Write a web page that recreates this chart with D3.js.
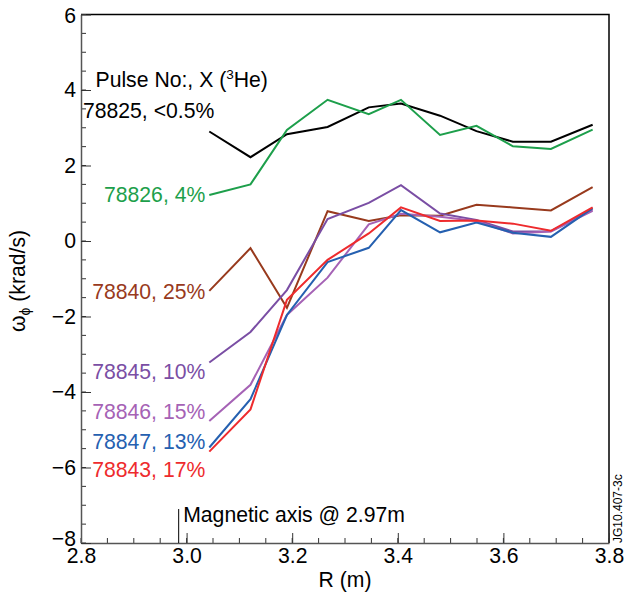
<!DOCTYPE html>
<html><head><meta charset="utf-8">
<script src="https://cdn.jsdelivr.net/npm/d3@7"></script>
<style>
body{margin:0;background:#fff;}
text{font-family:"Liberation Sans",Arial,Helvetica,sans-serif;}
</style></head>
<body><svg id="c" width="624" height="596"></svg>
<script>
const R = [3.043, 3.121, 3.19, 3.267, 3.345, 3.406, 3.48, 3.549, 3.618, 3.69, 3.769];
const pulses = ["78825, <0.5%", "78826, 4%", "78840, 25%", "78845, 10%", "78846, 15%", "78847, 13%", "78843, 17%"];
const v78825 = [2.90, 2.22, 2.83, 3.02, 3.54, 3.64, 3.32, 2.91, 2.63, 2.63, 3.08];
const v78826 = [1.22, 1.50, 2.94, 3.74, 3.36, 3.74, 2.81, 3.05, 2.51, 2.44, 2.95];
const v78840 = [-1.32, -0.19, -1.77, 0.79, 0.53, 0.68, 0.67, 0.96, 0.89, 0.81, 1.43];
const v78845 = [-3.22, -2.41, -1.30, 0.58, 1.01, 1.48, 0.73, 0.56, 0.25, 0.26, 0.84];
const v78846 = [-4.77, -3.81, -1.96, -0.97, 0.44, 0.72, 0.64, 0.53, 0.20, 0.25, 0.80];
const v78847 = [-5.47, -4.19, -1.96, -0.56, -0.18, 0.82, 0.23, 0.49, 0.22, 0.11, 0.87];
const v78843 = [-5.58, -4.46, -1.56, -0.50, 0.20, 0.89, 0.53, 0.54, 0.46, 0.27, 0.89];
const seriesValues = [v78825, v78826, v78840, v78845, v78846, v78847, v78843];
const labelValues = [3.26, 1.03, -1.54, -3.66, -4.72, -5.51, -6.24];
const xTicks = [2.8, 3.0, 3.2, 3.4, 3.6, 3.8];
const yTicks = [-8, -6, -4, -2, 0, 2, 4, 6];
const magAxisR = 2.985;

const colors = ["#000000", "#1d9f4b", "#983a1d", "#7a4ea4", "#a562b5", "#2560b0", "#ee2b2d"];
const labelDx = [9, 0, 0, 0, 0, 0, 0];

const svg = d3.select("#c");
const L = 81, Rg = 609, T = 14.5, B = 543;
const x = d3.scaleLinear().domain([2.8, 3.8]).range([L, Rg]);
const y = d3.scaleLinear().domain([-8, 6]).range([B, T]);
const fs = 21.2;

// frame top & right
svg.append("path").attr("d", `M${L},${T}H${Rg}V${B}`).attr("fill", "none").attr("stroke", "#000").attr("stroke-width", 1.5);

// minor ticks
const xMinor = d3.range(2.8, 3.8001, 0.05).map(d => +d.toFixed(2));
const yMinor = d3.range(-8, 6.001, 0.5);
svg.append("g").selectAll("line").data(xMinor).join("line")
  .attr("x1", d => x(d)).attr("x2", d => x(d)).attr("y1", B).attr("y2", B - 5)
  .attr("stroke", "#333").attr("stroke-width", 1);
svg.append("g").selectAll("line").data(yMinor).join("line")
  .attr("y1", d => y(d)).attr("y2", d => y(d)).attr("x1", L).attr("x2", L + 5)
  .attr("stroke", "#333").attr("stroke-width", 1);

// axes
const xAxis = svg.append("g").attr("transform", `translate(0,${B})`)
  .call(d3.axisBottom(x).tickValues(xTicks).tickFormat(d3.format(".1f")).tickSizeInner(-10).tickSizeOuter(0).tickPadding(5));
const yAxis = svg.append("g").attr("transform", `translate(${L},0)`)
  .call(d3.axisLeft(y).tickValues(yTicks).tickFormat(d => d < 0 ? "\u2212" + Math.abs(d) : d).tickSizeInner(-10).tickSizeOuter(0).tickPadding(4));
[xAxis, yAxis].forEach(g => {
  g.select(".domain").attr("stroke", "#555").attr("stroke-width", 1.5);
  g.selectAll(".tick line").attr("stroke", "#333").attr("stroke-width", 1);
  g.selectAll("text").attr("font-size", fs).attr("fill", "#000").attr("font-family", "Liberation Sans, Arial, sans-serif");
});
yAxis.selectAll("text").attr("dx", "-0.05em").attr("dy", d => d === -8 ? "0.12em" : d === 6 ? "0.38em" : "0.32em");

// lines
const line = d3.line().x((d, i) => x(R[i])).y(d => y(d));
svg.append("g").selectAll("path").data(seriesValues).join("path")
  .attr("d", d => line(d)).attr("fill", "none")
  .attr("stroke", (d, i) => colors[i]).attr("stroke-width", 2).attr("stroke-linejoin", "miter");

// labels
svg.append("g").selectAll("text").data(pulses).join("text")
  .attr("x", (d, i) => x(R[0]) - 4 + labelDx[i]).attr("y", (d, i) => y(labelValues[i]))
  .attr("text-anchor", "end").attr("font-size", fs).attr("fill", (d, i) => colors[i]).text(d => d);

const hdr = svg.append("text").attr("x", 95.5).attr("y", y(4.08)).attr("font-size", fs).attr("fill", "#000");
hdr.append("tspan").text("Pulse No:, X (");
hdr.append("tspan").attr("font-size", 13.5).attr("dy", -7.5).text("3");
hdr.append("tspan").attr("dy", 7.5).text("He)");

// magnetic axis
svg.append("line").attr("x1", x(magAxisR)).attr("x2", x(magAxisR)).attr("y1", y(-7.1)).attr("y2", B)
  .attr("stroke", "#000").attr("stroke-width", 1);
svg.append("text").attr("x", x(magAxisR) + 4.5).attr("y", y(-7.45)).attr("font-size", fs).attr("fill", "#000")
  .text("Magnetic axis @ 2.97m");

// axis titles
svg.append("text").attr("x", x(3.3)).attr("y", 587).attr("text-anchor", "middle").attr("font-size", fs).text("R (m)");
const yt = svg.append("text").attr("transform", "translate(25,281) rotate(-90)").attr("text-anchor", "middle").attr("font-size", fs);
yt.append("tspan").text("\u03c9");
yt.append("tspan").attr("font-size", 14).attr("dy", 5).text("\u03d5");
yt.append("tspan").attr("dy", -5).text(" (krad/s)");

// figure id
svg.append("text").attr("transform", `translate(622,${B}) rotate(-90)`).attr("font-size", 12).attr("fill", "#000").text("JG10.407-3c");
</script></body></html>
